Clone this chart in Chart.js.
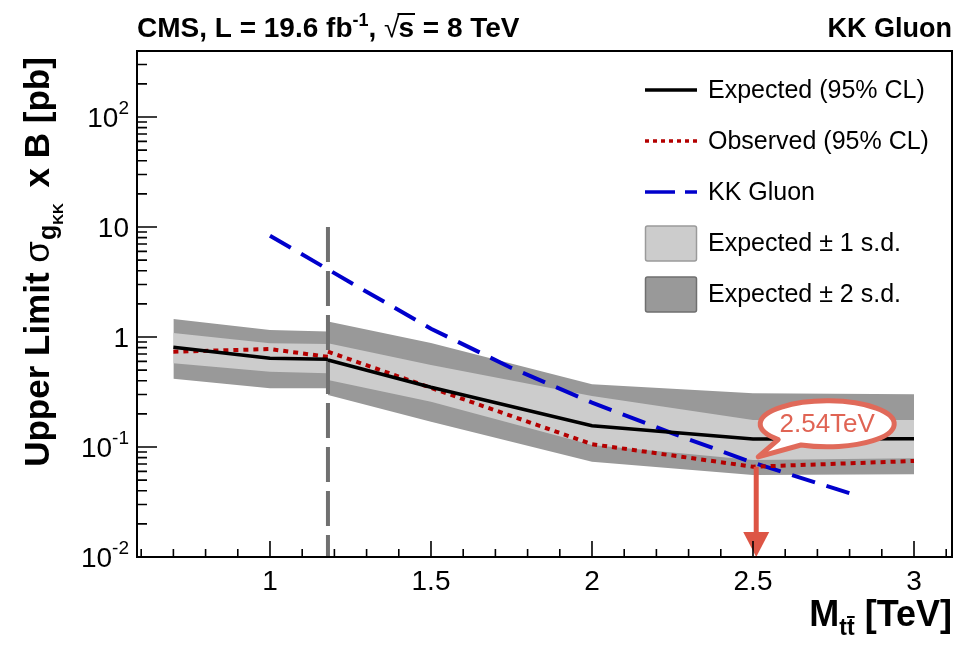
<!DOCTYPE html>
<html>
<head>
<meta charset="utf-8">
<script src="https://cdn.jsdelivr.net/npm/chart.js@4.4.1/dist/chart.umd.min.js"></script>
<style>
  html, body { margin: 0; padding: 0; background: #fff; }
  #wrap { width: 959px; height: 646px; }
</style>
</head>
<body>
<div id="wrap"><canvas id="limitChart" width="959" height="646"></canvas></div>
<script>
// resonance mass points (TeV), two analysis regions split at 1.18 TeV
const massLow = [0.7, 1.0, 1.18];
const massHigh = [1.18, 1.5, 2.0, 2.5, 3.0];

// expected / observed 95% CL limits (pb)
const expLow = [0.806, 0.64, 0.627];
const expHigh = [0.618, 0.349, 0.156, 0.118, 0.119];
const obsLow = [0.735, 0.777, 0.66];
const obsHigh = [0.735, 0.345, 0.106, 0.0662, 0.0746];

// +-1 and +-2 s.d. bands
const plus1Low = [1.09, 0.877, 0.864];
const minus1Low = [0.577, 0.484, 0.468];
const plus2Low = [1.46, 1.16, 1.12];
const minus2Low = [0.418, 0.342, 0.342];
const plus1High = [0.877, 0.557, 0.291, 0.176, 0.176];
const minus1High = [0.407, 0.258, 0.104, 0.0762, 0.0789];
const plus2High = [1.38, 0.88, 0.371, 0.308, 0.301];
const minus2High = [0.297, 0.17, 0.0735, 0.0556, 0.0565];

// KK gluon theory cross section
const kkMass = [1.0, 1.25, 1.5, 1.75, 2.0, 2.25, 2.5, 2.8];
const kkXsec = [8.33, 3.13, 1.19, 0.523, 0.253, 0.133, 0.072, 0.038];

// region boundary and excluded-mass marker
const splitMass = 1.18;
const splitRange = [10, 0.01];
const limitMass = 2.51;
const limitRange = [0.066, 0.01];
const limitLabel = '2.54TeV';

// axis ticks
const xTickLabels = [1, 1.5, 2, 2.5, 3];
const yTickExps = [-2, -1, 0, 1, 2];

const legendItems = [
  { text: 'Expected (95% CL)', kind: 'line', color: '#000000', width: 3.5, dash: [] },
  { text: 'Observed (95% CL)', kind: 'line', color: '#b40000', width: 3.5, dash: [4, 4] },
  { text: 'KK Gluon', kind: 'line', color: '#0000cc', width: 3.5, dash: [30, 10] },
  { text: 'Expected \u00b1 1 s.d.', kind: 'box', color: '#cccccc', edge: '#9a9a9a' },
  { text: 'Expected \u00b1 2 s.d.', kind: 'box', color: '#999999', edge: '#6f6f6f' }
];

const FONT = '"Liberation Sans", Arial, Helvetica, sans-serif';
const f = (size, bold) => (bold ? 'bold ' : '') + size + 'px ' + FONT;

function pts(xs, ys) { return xs.map((x, i) => ({ x: x, y: ys[i] })); }

function band(xs, up, lo, color, order) {
  return [
    { data: pts(xs, up), fill: '+1', backgroundColor: color, borderColor: 'rgba(0,0,0,0)', borderWidth: 0, order: order },
    { data: pts(xs, lo), fill: false, borderColor: 'rgba(0,0,0,0)', borderWidth: 0, order: order }
  ];
}

function curve(xs, ys, color, width, dash) {
  return { data: pts(xs, ys), fill: false, borderColor: color, borderWidth: width, borderDash: dash, order: 1 };
}

const datasets = [].concat(
  band(massLow, plus2Low, minus2Low, '#999999', 5),
  band(massHigh, plus2High, minus2High, '#999999', 5),
  band(massLow, plus1Low, minus1Low, '#cccccc', 4),
  band(massHigh, plus1High, minus1High, '#cccccc', 4),
  [{ data: [{ x: splitMass, y: splitRange[0] }, { x: splitMass, y: splitRange[1] }],
     fill: false, borderColor: '#707070', borderWidth: 4, borderDash: [35, 9], order: 3 }],
  [curve(massLow, expLow, '#000000', 3.5, []), curve(massHigh, expHigh, '#000000', 3.5, [])],
  [curve(massLow, obsLow, '#b40000', 4, [5, 5]), curve(massHigh, obsHigh, '#b40000', 4, [5, 5])],
  [curve(kkMass, kkXsec, '#0000cc', 4, [24, 12])]
);

// draw a run of text pieces left to right, returns total width
function runs(ctx, pieces, x, y, draw) {
  let cx = x;
  pieces.forEach(p => {
    ctx.font = p.font;
    const w = ctx.measureText(p.t).width;
    if (draw) {
      ctx.fillText(p.t, cx, y + (p.dy || 0));
      if (p.bar) ctx.fillRect(cx, y + (p.dy || 0) - p.bar, w, 2);
    }
    cx += w + (p.gap || 0);
  });
  return cx - x;
}

const decorations = {
  id: 'decorations',
  afterDatasetsDraw(chart) {
    const { ctx, scales: { x, y } } = chart;
    // arrow at excluded mass
    const ax = x.getPixelForValue(limitMass);
    const top = y.getPixelForValue(limitRange[0]);
    const bot = y.getPixelForValue(limitRange[1]);
    ctx.save();
    ctx.strokeStyle = '#dd5545';
    ctx.fillStyle = '#dd5545';
    ctx.lineWidth = 5;
    ctx.beginPath();
    ctx.moveTo(ax, top);
    ctx.lineTo(ax, bot - 22);
    ctx.stroke();
    ctx.beginPath();
    ctx.moveTo(ax - 13, bot - 25);
    ctx.lineTo(ax + 13, bot - 25);
    ctx.lineTo(ax, bot);
    ctx.closePath();
    ctx.fill();

    // speech bubble
    const tipX = ax + 2, tipY = top - 10;
    const cx = tipX + 69, cy = tipY - 33, rx = 67, ry = 23;
    const a1 = 137 * Math.PI / 180, a2 = 113 * Math.PI / 180;
    ctx.beginPath();
    ctx.ellipse(cx, cy, rx, ry, 0, a1, a2 + 2 * Math.PI);
    ctx.lineTo(tipX, tipY);
    ctx.closePath();
    ctx.fillStyle = '#ffffff';
    ctx.fill();
    ctx.strokeStyle = '#e06a5a';
    ctx.lineWidth = 5;
    ctx.lineJoin = 'round';
    ctx.stroke();
    ctx.fillStyle = '#e06454';
    ctx.font = f(26, false);
    ctx.textAlign = 'center';
    ctx.textBaseline = 'middle';
    ctx.fillText(limitLabel, cx, cy + 1);
    ctx.restore();
  },
  afterDraw(chart) {
    const { ctx, chartArea: a, scales: { x, y } } = chart;
    ctx.save();
    ctx.fillStyle = '#000';
    ctx.strokeStyle = '#000';

    // frame
    ctx.lineWidth = 2;
    ctx.strokeRect(a.left, a.top, a.right - a.left, a.bottom - a.top);

    // ticks pointing inwards
    ctx.lineWidth = 1.6;
    ctx.beginPath();
    for (let m = 6; m <= 31; m++) {
      const px = x.getPixelForValue(m / 10);
      if (px < a.left || px > a.right) continue;
      const len = m % 5 === 0 ? 16 : 8;
      ctx.moveTo(px, a.bottom);
      ctx.lineTo(px, a.bottom - len);
    }
    for (let e = -2; e <= 2; e++) {
      for (let k = 1; k <= 9; k++) {
        const v = k * Math.pow(10, e);
        if (v > y.max) break;
        const py = y.getPixelForValue(v);
        ctx.moveTo(a.left, py);
        ctx.lineTo(a.left + (k === 1 ? 20 : 10), py);
      }
    }
    ctx.stroke();

    // x tick labels
    ctx.textAlign = 'center';
    ctx.textBaseline = 'alphabetic';
    ctx.font = f(28, false);
    xTickLabels.forEach(v => ctx.fillText(String(v), x.getPixelForValue(v), 590));

    // y tick labels with exponents
    ctx.textAlign = 'right';
    const right = a.left - 8;
    yTickExps.forEach(e => {
      const py = y.getPixelForValue(Math.pow(10, e)) + 10;
      ctx.font = f(28, false);
      if (e === 0) { ctx.fillText('1', right, py); return; }
      if (e === 1) { ctx.fillText('10', right, py); return; }
      ctx.font = f(19, false);
      const exp = String(e);
      const ew = ctx.measureText(exp).width;
      ctx.fillText(exp, right, py - 13);
      ctx.font = f(28, false);
      ctx.fillText('10', right - ew, py);
    });

    // header
    ctx.textAlign = 'left';
    const hb = 37;
    let hx = a.left;
    hx += runs(ctx, [
      { t: 'CMS, L = 19.6 fb', font: f(28, true) },
      { t: '-1', font: f(18, true), dy: -11 },
      { t: ', ', font: f(28, true) }
    ], hx, hb, true);
    ctx.font = f(28, false);
    ctx.fillText('\u221a', hx, hb);
    const rw = ctx.measureText('\u221a').width;
    ctx.font = f(28, true);
    const sw = ctx.measureText('s').width;
    ctx.fillText('s', hx + rw - 1, hb);
    ctx.fillRect(hx + rw - 2, hb - 24, sw + 2, 2);
    hx += rw + sw;
    runs(ctx, [{ t: ' = 8 TeV', font: f(28, true) }], hx, hb, true);
    ctx.textAlign = 'right';
    ctx.font = f(27, true);
    ctx.fillText('KK Gluon', a.right, hb);

    // y title (rotated)
    const yPieces = [
      { t: 'Upper Limit ', font: f(35, true) },
      { t: '\u03c3', font: f(35, false), gap: 1 },
      { t: 'g', font: f(25, true), dy: 7 },
      { t: 'KK', font: f(15, true), dy: 14, gap: 6 },
      { t: ' x B [pb]', font: f(35, true) }
    ];
    ctx.save();
    ctx.translate(49, 262);
    ctx.rotate(-Math.PI / 2);
    ctx.textAlign = 'left';
    const yw = runs(ctx, yPieces, 0, 0, false);
    runs(ctx, yPieces, -yw / 2, 0, true);
    ctx.restore();

    // x title
    const xPieces = [
      { t: 'M', font: f(36, true) },
      { t: 't', font: f(23, true), dy: 9 },
      { t: 't', font: f(23, true), dy: 9, bar: 19 },
      { t: ' [TeV]', font: f(36, true) }
    ];
    ctx.textAlign = 'left';
    const xw = runs(ctx, xPieces, 0, 0, false);
    runs(ctx, xPieces, a.right - xw, 626, true);

    // legend
    const rowY = [90, 141, 192, 243, 294];
    legendItems.forEach((it, i) => {
      const ry = rowY[i];
      if (it.kind === 'line') {
        ctx.beginPath();
        ctx.setLineDash(it.dash);
        ctx.lineWidth = it.width;
        ctx.strokeStyle = it.color;
        ctx.moveTo(645, ry);
        ctx.lineTo(697, ry);
        ctx.stroke();
        ctx.setLineDash([]);
      } else {
        ctx.fillStyle = it.color;
        ctx.strokeStyle = it.edge;
        ctx.lineWidth = 1.5;
        ctx.beginPath();
        ctx.roundRect(645.5, ry - 17, 51, 35, 2);
        ctx.fill();
        ctx.stroke();
      }
      ctx.fillStyle = '#000';
      ctx.textAlign = 'left';
      ctx.textBaseline = 'middle';
      ctx.font = f(25, false);
      ctx.fillText(it.text, 708, ry + 1);
    });
    ctx.restore();
  }
};

new Chart(document.getElementById('limitChart'), {
  type: 'line',
  data: { datasets: datasets },
  options: {
    responsive: false,
    animation: false,
    devicePixelRatio: 1,
    layout: { padding: { left: 137, right: 7, top: 51, bottom: 89 } },
    plugins: { legend: { display: false }, tooltip: { enabled: false } },
    elements: { point: { radius: 0 }, line: { tension: 0 } },
    scales: {
      x: { type: 'linear', min: 0.587, max: 3.118, bounds: 'data', display: false },
      y: { type: 'logarithmic', min: 0.01, max: 398, bounds: 'data', display: false }
    }
  },
  plugins: [decorations]
});
</script>
</body>
</html>
